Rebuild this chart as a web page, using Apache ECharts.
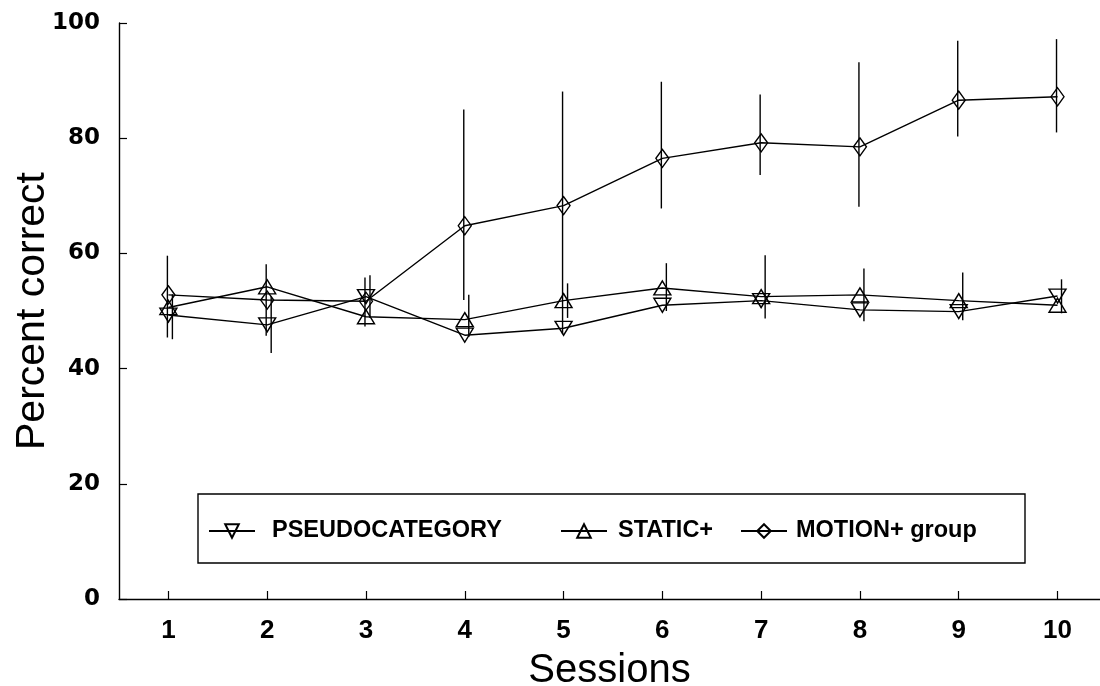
<!DOCTYPE html>
<html>
<head>
<meta charset="utf-8">
<script src="https://cdn.jsdelivr.net/npm/echarts@6/dist/echarts.min.js"></script>
<style>
  html, body { margin: 0; padding: 0; background: #fff; }
  #chart { width: 1100px; height: 686px; }
</style>
</head>
<body>
<div id="chart"></div>
<script>
// ---- Data ----
const sessions = [1, 2, 3, 4, 5, 6, 7, 8, 9, 10];
const yTicks = [0, 20, 40, 60, 80, 100];

const pseudoMean = [49.3, 47.6, 52.5, 45.8, 47.0, 51.0, 51.8, 50.2, 49.9, 52.6];
const staticMean = [50.6, 54.2, 49.0, 48.5, 51.8, 54.0, 52.5, 52.8, 51.8, 51.0];
const motionMean = [52.8, 51.9, 51.7, 64.8, 68.3, 76.5, 79.2, 78.5, 86.6, 87.2];

// error bar ends (null where no bar is visible)
const pseudoLow  = [45.1, 42.7, 48.8, null, null, null, null, null, null, 49.6];
const pseudoHigh = [52.9, 52.5, 56.2, null, null, null, null, null, null, 55.5];
const staticLow  = [null, null, null, 45.5, 48.8, 50.0, 48.7, 48.2, 48.4, null];
const staticHigh = [null, null, null, 52.8, 54.8, 58.3, 59.7, 57.4, 56.7, null];
const motionLow  = [45.4, 45.7, 47.3, 51.9, 46.0, 67.8, 73.6, 68.1, 80.3, 81.0];
const motionHigh = [59.6, 58.1, 55.8, 85.0, 88.1, 89.8, 87.6, 93.2, 96.9, 97.2];

const names = ['PSEUDOCATEGORY', 'STATIC+', 'MOTION+ group'];

// ---- Build options ----
function pts(vals) { return sessions.map((s, i) => [s, vals[i]]); }
function bars(lo, hi) {
  const out = [];
  sessions.forEach((s, i) => { if (lo[i] != null && hi[i] != null) out.push([s, lo[i], hi[i]]); });
  return out;
}
function errSeries(lo, hi, dx) {
  return {
    type: 'custom',
    data: bars(lo, hi),
    z: 1,
    silent: true,
    renderItem: function (params, api) {
      const p1 = api.coord([api.value(0), api.value(1)]);
      const p2 = api.coord([api.value(0), api.value(2)]);
      return {
        type: 'line',
        shape: { x1: p1[0] + dx, y1: p1[1], x2: p2[0] + dx, y2: p2[1] },
        style: { stroke: '#000', lineWidth: 1.4 }
      };
    }
  };
}
const lineBase = {
  type: 'line',
  z: 3,
  showSymbol: true,
  lineStyle: { color: '#000', width: 1.4 },
  itemStyle: { color: 'rgba(255,255,255,0)', borderColor: '#000', borderWidth: 1.4 },
  emphasis: { disabled: true }
};

const font = 'Liberation Sans, Arial, sans-serif';
function legendAt(left, name, gap) {
  return {
    left: left,
    top: 519,
    padding: 0,
    itemWidth: 46,
    itemHeight: 17,
    selectedMode: false,
    data: [name],
    textStyle: { fontFamily: font, fontWeight: 'bold', fontSize: 23.5, color: '#000', padding: [0, 0, 0, gap] }
  };
}

const option = {
  animation: false,
  backgroundColor: '#fff',
  grid: { left: 119, right: 0, top: 23, bottom: 87, containLabel: false, outerBoundsMode: 'none' },
  xAxis: {
    type: 'value',
    min: 0.5,
    max: 10.43,
    name: 'Sessions',
    nameLocation: 'middle',
    nameGap: 52,
    nameMoveOverlap: false,
    nameTextStyle: { fontFamily: font, fontSize: 40, color: '#000' },
    axisLine: { show: true, lineStyle: { color: '#000', width: 1.4 } },
    axisTick: { show: true, inside: true, length: 8, customValues: sessions, lineStyle: { color: '#000', width: 1.2 } },
    axisLabel: { customValues: sessions, margin: 19, fontFamily: font, fontWeight: 'bold', fontSize: 26, color: '#000' },
    splitLine: { show: false }
  },
  yAxis: {
    type: 'value',
    min: 0,
    max: 100,
    interval: 20,
    name: 'Percent correct',
    nameLocation: 'middle',
    nameGap: 66,
    nameMoveOverlap: false,
    nameTextStyle: { fontFamily: font, fontSize: 41, color: '#000' },
    axisLine: { show: true, lineStyle: { color: '#000', width: 1.4 } },
    axisTick: { show: true, inside: true, length: 8, customValues: yTicks, lineStyle: { color: '#000', width: 1.2 } },
    axisLabel: { customValues: yTicks, margin: 19, fontFamily: 'DejaVu Sans, sans-serif', fontWeight: 'bold', fontSize: 23, color: '#000' },
    splitLine: { show: false }
  },
  legend: [
    legendAt(208, names[0], 12),
    legendAt(560, names[1], 6),
    legendAt(740, names[2], 4)
  ],
  graphic: [{
    type: 'rect',
    shape: { x: 198, y: 494, width: 827, height: 69 },
    style: { fill: 'none', stroke: '#000', lineWidth: 1.4 },
    z: 0
  }],
  series: [
    errSeries(pseudoLow, pseudoHigh, 4),
    errSeries(staticLow, staticHigh, 4),
    errSeries(motionLow, motionHigh, -1),
    Object.assign({}, lineBase, { name: names[0], data: pts(pseudoMean), symbol: 'triangle', symbolRotate: 180, symbolSize: [17, 14] }),
    Object.assign({}, lineBase, { name: names[1], data: pts(staticMean), symbol: 'triangle', symbolSize: [17, 14] }),
    Object.assign({}, lineBase, { name: names[2], data: pts(motionMean), symbol: 'diamond', symbolSize: [13, 18] })
  ]
};

const chart = echarts.init(document.getElementById('chart'), null, { renderer: 'canvas' });
chart.setOption(option);
</script>
</body>
</html>
